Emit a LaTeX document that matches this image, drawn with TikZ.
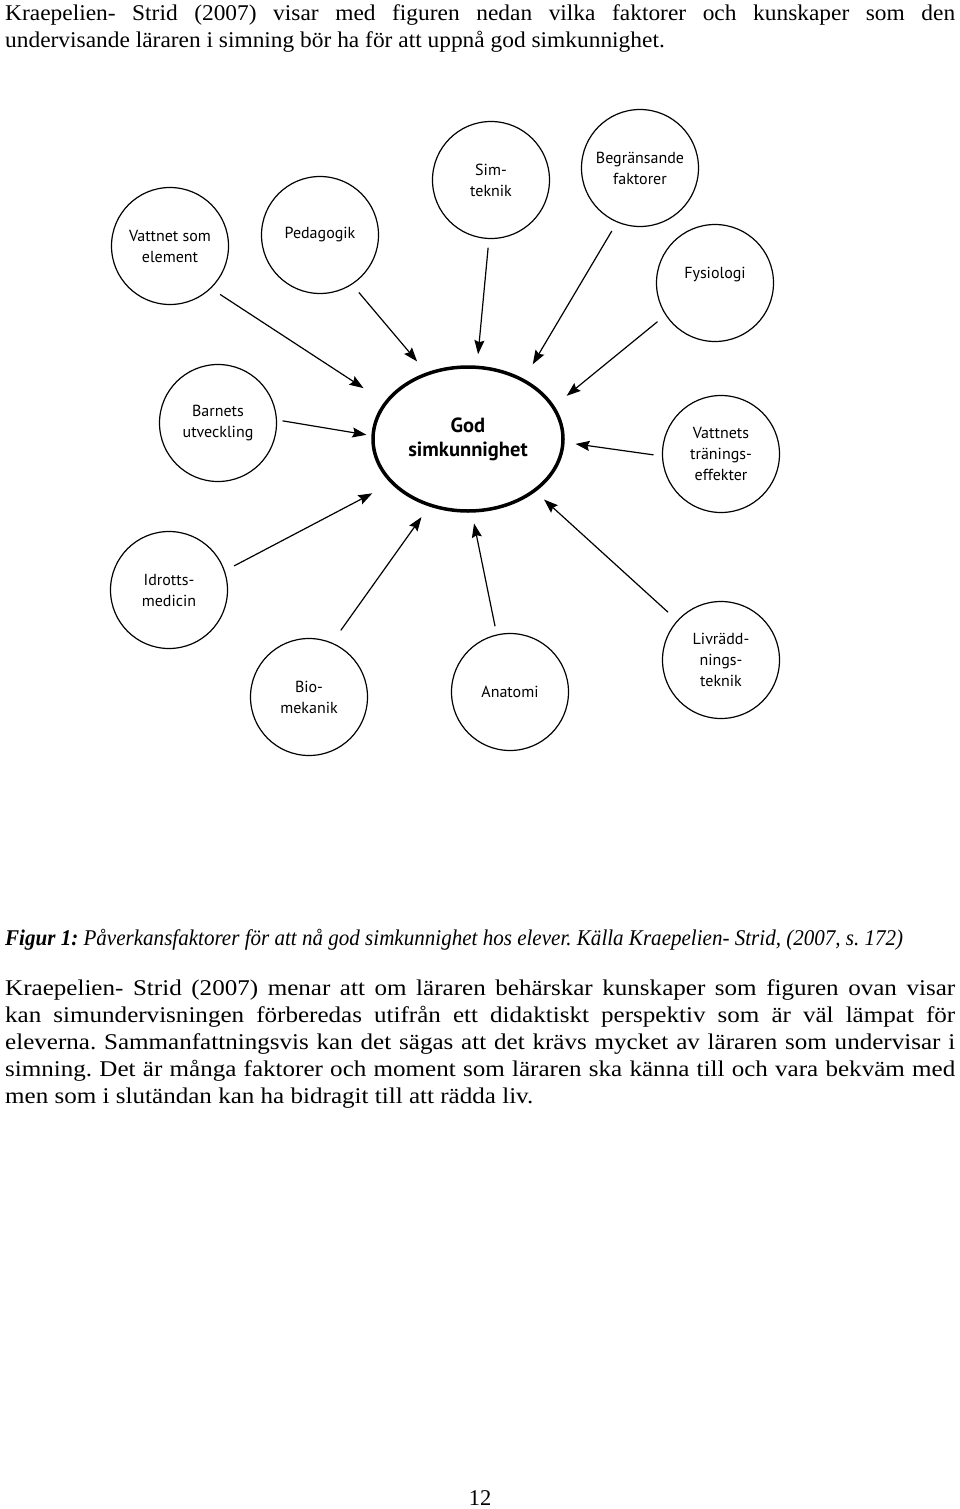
\documentclass[tikz,border=0pt]{standalone}
\usepackage{fontspec}
\usepackage{graphicx}
\setmainfont{Liberation Serif}
\newfontfamily\pone[FakeStretch=1.04]{Liberation Serif}
\newfontfamily\ptwo[FakeStretch=1.114]{Liberation Serif}
\newfontfamily\circfont{PT Sans}
\usetikzlibrary{arrows.meta,shapes.geometric}
\tikzset{
  factor/.style={circle, draw, line width=1.2pt, minimum size=117pt, inner sep=0pt,
    align=center, font=\circfont\fontsize{16}{21}\selectfont},
  central/.style={ellipse, draw, line width=3.5pt, minimum width=190pt, minimum height=144pt,
    inner sep=0pt, align=center, font=\circfont\bfseries\fontsize{20.5}{24}\selectfont},
  link/.style={line width=1.2pt, -{Stealth[length=14pt,width=10pt,inset=2pt]}},
  bodyone/.style={anchor=base west, inner sep=0pt, font=\pone\fontsize{22.5}{27}\selectfont},
  bodytwo/.style={anchor=base west, inner sep=0pt, font=\ptwo\fontsize{22.5}{27}\selectfont},
  capline/.style={anchor=base west, inner sep=0pt, font=\fontsize{22.5}{27}\selectfont},
}
\frenchspacing
\begin{document}
\begin{tikzpicture}[x=1pt,y=-1pt]
\useasboundingbox (0,0) rectangle (960,1509);
\fill[white] (0,0) rectangle (960,1509);

% body text top
\node[bodyone] (p1a) at (5,21) {\makebox[950pt][s]{Kraepelien- Strid (2007) visar med figuren nedan vilka faktorer och kunskaper som den}};
\node[bodyone] (p1b) at (5,48) {undervisande läraren i simning bör ha för att uppnå god simkunnighet.};

% diagram
\node[central] (god) at (468,439) {God\\simkunnighet};
\node[factor] (vse) at (170,246) {Vattnet som\\element};
\node[factor] (ped) at (320,235) {Pedagogik};
\node[factor] (sim) at (491,180) {Sim-\\teknik};
\node[factor] (beg) at (640,168) {Begränsande\\faktorer};
\node[factor] (fys) at (715,283) {\raisebox{8pt}[\height][\depth]{Fysiologi}};
\node[factor] (bar) at (218,423) {Barnets\\utveckling};
\node[factor] (vte) at (721,454) {Vattnets\\tränings-\\effekter};
\node[factor] (idr) at (169,590) {Idrotts-\\medicin};
\node[factor] (bio) at (309,697) {Bio-\\mekanik};
\node[factor] (ana) at (510,692) {Anatomi};
\node[factor] (liv) at (721,660) {Livrädd-\\nings-\\teknik};

\draw[link, shorten <=10.8pt, shorten >=25pt] (vse.-46.2) -- (god.156.3);
\draw[link, shorten <=10.3pt, shorten >=14.4pt] (ped.-57.5) -- (god.122.5);
\draw[link, shorten <=8.6pt, shorten >=11.4pt] (sim.-92.6) -- (god.83.1);
\draw[link, shorten <=10pt, shorten >=17pt] (beg.-113.2) -- (god.47.9);
\draw[link, shorten <=10.3pt, shorten >=15.8pt] (fys.-147.5) -- (god.21.5);
\draw[link, shorten <=8.5pt, shorten >=11pt] (vte.-178.3) -- (god.-2.7);
\draw[link, shorten <=5.6pt, shorten >=5pt] (bar.3.6) -- (god.178.9);
\draw[link, shorten <=10.5pt, shorten >=21pt] (idr.19.5) -- (god.-150.8);
\draw[link, shorten <=15pt, shorten >=13pt] (bio.67.6) -- (god.-120.3);
\draw[link, shorten <=8.4pt, shorten >=11pt] (ana.103.8) -- (god.-87.2);
\draw[link, shorten <=12.3pt, shorten >=11.5pt] (liv.138.4) -- (god.-38.2);

% caption
\node[capline] (cap) at (5,945) {\resizebox{898pt}{\height}{\itshape\textbf{Figur 1:} Påverkansfaktorer för att nå god simkunnighet hos elever. Källa Kraepelien- Strid, (2007, s. 172)}};

% second paragraph
\node[bodytwo] (p2a) at (5,995) {\makebox[950pt][s]{Kraepelien- Strid (2007) menar att om läraren behärskar kunskaper som figuren ovan visar}};
\node[bodytwo] (p2b) at (5,1022) {\makebox[950pt][s]{kan simundervisningen förberedas utifrån ett didaktiskt perspektiv som är väl lämpat för}};
\node[bodytwo] (p2c) at (5,1049) {\makebox[950pt][s]{eleverna. Sammanfattningsvis kan det sägas att det krävs mycket av läraren som undervisar i}};
\node[bodytwo] (p2d) at (5,1076) {\makebox[950pt][s]{simning. Det är många faktorer och moment som läraren ska känna till och vara bekväm med}};
\node[bodytwo] (p2e) at (5,1103) {men som i slutändan kan ha bidragit till att rädda liv.};

\node[anchor=base, inner sep=0pt, font=\fontsize{22.5}{27}\selectfont] (pg) at (480,1505) {12};
\end{tikzpicture}
\end{document}
